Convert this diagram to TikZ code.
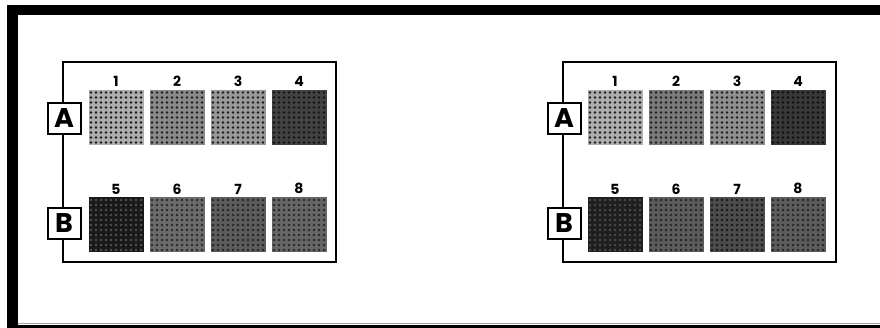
\documentclass[tikz,border=0pt]{standalone}
\usepackage{fontspec}
\setmainfont{Poppins}
\usepackage{xcolor}
\usepackage{tikz}
\usetikzlibrary{positioning}
\tikzset{
  panel/.style={draw=black, line width=2.4pt},
  rowlab/.style={rectangle, draw=black, line width=2pt, fill=white,
    minimum width=33pt, minimum height=31pt, inner sep=0pt,
    font=\fontsize{27}{27}\selectfont\bfseries},
  numlab/.style={inner sep=0pt, font=\fontsize{14}{14}\selectfont\bfseries},
  well/.style={rectangle, minimum width=55pt, minimum height=55pt, inner sep=0pt},
  welldot/.style={radius=1.45pt},
}
\begin{document}
\begin{tikzpicture}[x=1pt,y=-1pt]
  \useasboundingbox (0,0) rectangle (880,328);
  % rahmen
  \fill[black] (7,5) rectangle (880,15);
  \fill[black] (7,5) rectangle (18,328);
  \fill[black] (18,325) rectangle (880,328);
  \draw[black!35, line width=0.8pt] (18,323.5) -- (880,323.5);

  % zwei platten
  \foreach \p/\ox in {l/0, r/500} {
    \draw[panel] (63+\ox,62) rectangle (336+\ox,262);
    \node[rowlab] (\p A) at (64+\ox,118.5) {A};
    \node[rowlab] (\p B) at (64+\ox,223.5) {B};
  }

  % linke platte: nr/x/y/hintergrund/punkte (black!%)
  \foreach \n/\cx/\cy/\bg/\dt in {
      1/116/117.5/32/90, 2/177/117.5/46/88, 3/238/117.5/40/88, 4/299/117.5/74/92,
      5/116/225/90/68, 6/177/225/58/84, 7/238/225/64/86, 8/299/225/60/84} {
    \node[well, fill=black!\bg] (l\n) at (\cx,\cy) {};
    \foreach \i in {0,...,10}
      \foreach \j in {0,...,10}
        \fill[black!\dt, welldot] (\cx-25+5*\i,\cy-25+5*\j) circle;
    \node[numlab, above=3pt of l\n] (ln\n) {\n};
  }

  % rechte platte
  \foreach \n/\cx/\cy/\bg/\dt in {
      1/615/117.5/32/88, 2/676/117.5/52/88, 3/737/117.5/44/88, 4/798/117.5/78/94,
      5/615/225/88/70, 6/676/225/64/86, 7/737/225/70/90, 8/798/225/64/86} {
    \node[well, fill=black!\bg] (r\n) at (\cx,\cy) {};
    \foreach \i in {0,...,10}
      \foreach \j in {0,...,10}
        \fill[black!\dt, welldot] (\cx-25+5*\i,\cy-25+5*\j) circle;
    \node[numlab, above=3pt of r\n] (rn\n) {\n};
  }
\end{tikzpicture}
\end{document}
